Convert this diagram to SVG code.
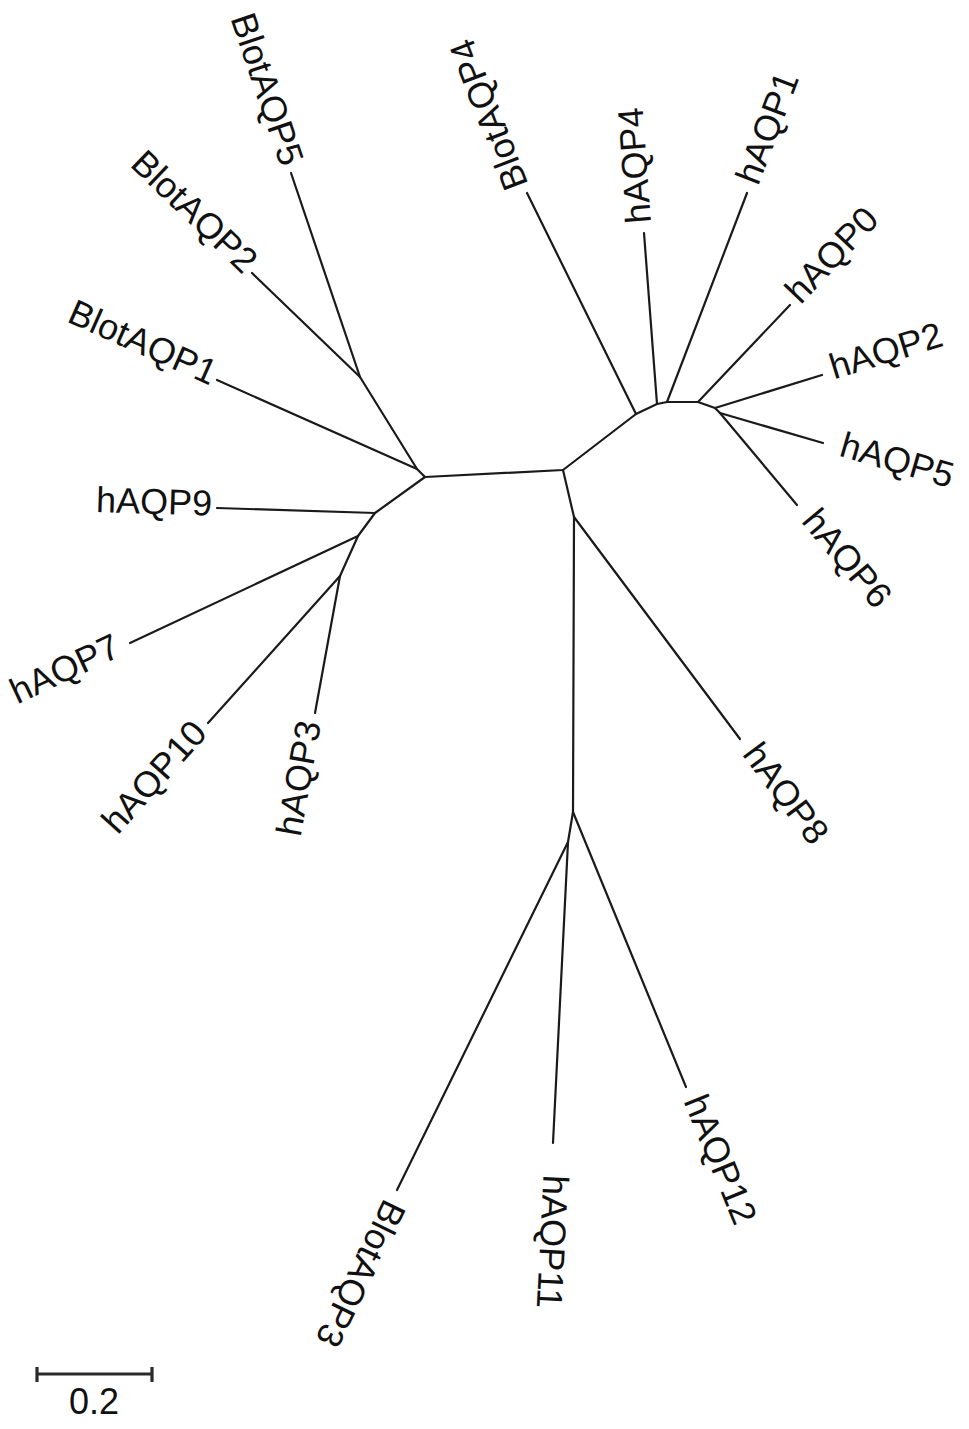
<svg xmlns="http://www.w3.org/2000/svg" width="969" height="1429" viewBox="0 0 969 1429">
<style>
  .br { fill: none; stroke: #1a1a1a; stroke-width: 2.2; stroke-linecap: round; stroke-linejoin: round; }
  .lbl { font-family: "Liberation Sans", Arial, sans-serif; font-size: 36px; fill: #111; }
  .s { text-anchor: start; }
  .e { text-anchor: end; }
  .sc { fill: none; stroke: #2a2a2a; stroke-width: 3.2; }
</style>
<rect width="969" height="1429" fill="#ffffff"/>
<g id="connectors">
  <!-- internal branches -->
  <polyline class="br" points="360,377 417,469 425,477"/>
  <polyline class="br" points="425,477 375,513 358,536 340,576"/>
  <polyline class="br" points="425,477 563,470 636,414 657,404 667,402 698,402 715,408 720,413"/>
  <polyline class="br" points="563,470 574,517 573,812 568,842"/>
  <!-- leaf branches -->
  <line class="br" x1="360" y1="377" x2="291" y2="173"/>
  <line class="br" x1="360" y1="377" x2="252" y2="273"/>
  <line class="br" x1="417" y1="469" x2="217" y2="380"/>
  <line class="br" x1="375" y1="513" x2="217" y2="508"/>
  <line class="br" x1="358" y1="536" x2="130" y2="643"/>
  <line class="br" x1="340" y1="576" x2="208" y2="723"/>
  <line class="br" x1="340" y1="576" x2="315" y2="713"/>
  <line class="br" x1="636" y1="414" x2="527" y2="193"/>
  <line class="br" x1="657" y1="404" x2="644" y2="233"/>
  <line class="br" x1="667" y1="402" x2="747" y2="193"/>
  <line class="br" x1="698" y1="402" x2="790" y2="305"/>
  <line class="br" x1="715" y1="408" x2="822" y2="375"/>
  <line class="br" x1="720" y1="413" x2="823" y2="443"/>
  <line class="br" x1="720" y1="413" x2="797" y2="505"/>
  <line class="br" x1="574" y1="517" x2="740" y2="739"/>
  <line class="br" x1="573" y1="812" x2="686" y2="1087"/>
  <line class="br" x1="568" y1="842" x2="553" y2="1143"/>
  <line class="br" x1="568" y1="842" x2="397" y2="1190"/>
</g>
<g id="BlotAQP5"><text class="lbl e" dy="0.22em" transform="translate(288.4,165.4) rotate(71.3)">BlotAQP5</text></g>
<g id="BlotAQP2"><text class="lbl e" dy="0.22em" transform="translate(248.4,269.5) rotate(43.9)">BlotAQP2</text></g>
<g id="BlotAQP1"><text class="lbl e" dy="0.22em" transform="translate(213.3,378.4) rotate(24)">BlotAQP1</text></g>
<g id="hAQP9"><text class="lbl e" dy="0.22em" transform="translate(212,507.8) rotate(1.8)">hAQP9</text></g>
<g id="hAQP7"><text class="lbl e" dy="0.22em" transform="translate(119.1,648.1) rotate(-25.1)">hAQP7</text></g>
<g id="hAQP10"><text class="lbl e" dy="0.22em" transform="translate(202.7,729) rotate(-48.1)">hAQP10</text></g>
<g id="hAQP3"><text class="lbl e" dy="0.22em" transform="translate(313.4,721.8) rotate(-79.7)">hAQP3</text></g>
<g id="BlotAQP4"><text class="lbl s" dy="0.22em" transform="translate(521,187) rotate(-111)">BlotAQP4</text></g>
<g id="hAQP4"><text class="lbl s" dy="0.22em" transform="translate(643.2,223) rotate(-94.3)">hAQP4</text></g>
<g id="hAQP1"><text class="lbl s" dy="0.22em" transform="translate(750.6,183.7) rotate(-69.1)">hAQP1</text></g>
<g id="hAQP0"><text class="lbl s" dy="0.22em" transform="translate(794.8,299.9) rotate(-46.5)">hAQP0</text></g>
<g id="hAQP2"><text class="lbl s" dy="0.22em" transform="translate(831.6,372) rotate(-17.1)">hAQP2</text></g>
<g id="hAQP5"><text class="lbl s" dy="0.22em" transform="translate(840.3,448) rotate(16.2)">hAQP5</text></g>
<g id="hAQP6"><text class="lbl s" dy="0.22em" transform="translate(806.6,516.5) rotate(50.1)">hAQP6</text></g>
<g id="hAQP8"><text class="lbl s" dy="0.22em" transform="translate(747.8,749.4) rotate(53.2)">hAQP8</text></g>
<g id="hAQP12"><text class="lbl s" dy="0.22em" transform="translate(690.6,1098.1) rotate(67.7)">hAQP12</text></g>
<g id="hAQP11"><text class="lbl s" dy="0.22em" transform="translate(551.4,1175) rotate(92.85)">hAQP11</text></g>
<g id="BlotAQP3"><text class="lbl s" dy="0.22em" transform="translate(391.7,1200.8) rotate(116.2)">BlotAQP3</text></g>
<g id="scale-bar">
  <path class="sc" d="M37,1374 H152 M37,1367 V1382 M152,1367 V1382"/>
  <text class="lbl" x="94" y="1414" text-anchor="middle">0.2</text>
</g>
</svg>
